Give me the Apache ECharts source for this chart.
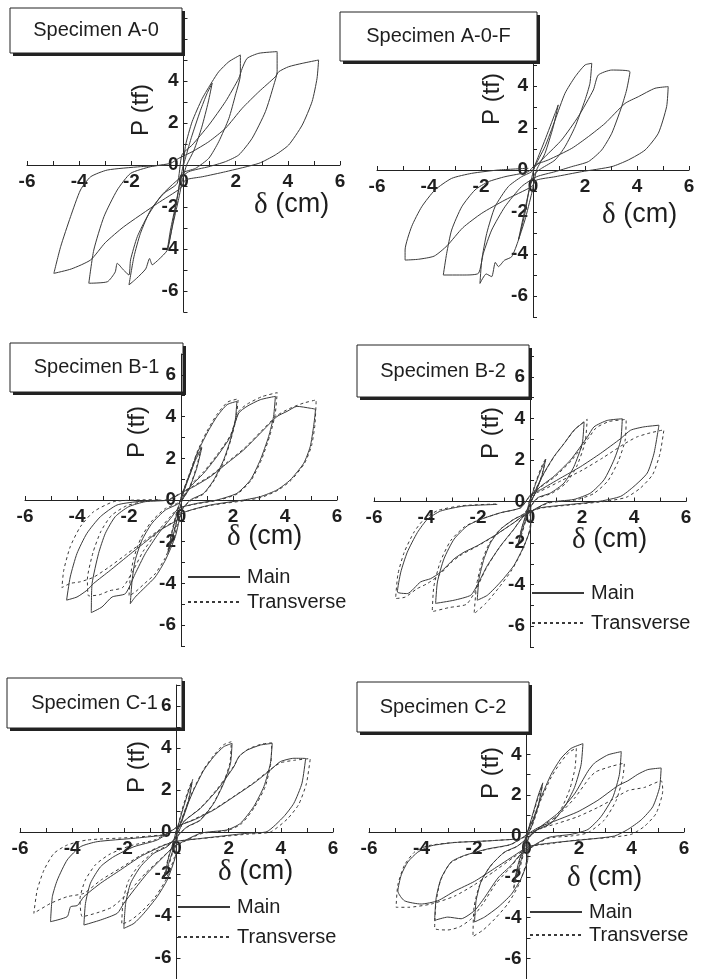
<!DOCTYPE html>
<html>
<head>
<meta charset="utf-8">
<script src="https://cdn.jsdelivr.net/npm/echarts@6/dist/echarts.min.js"></script>
<style>
  html, body { margin: 0; padding: 0; background: #fff; }
  #chart { width: 707px; height: 979px; }
</style>
</head>
<body>
<div id="chart"></div>
<script>
// Load–displacement hysteresis records, δ (cm) vs P (tf), one path per specimen and direction.
const titles = ['Specimen A-0', 'Specimen A-0-F', 'Specimen B-1', 'Specimen B-2', 'Specimen C-1', 'Specimen C-2'];
const seriesNames = ['Main', 'Transverse'];
const xRange = [-6, 6];
const yRange = [-7, 7];
const labelStep = 2;

const a0Main = [
  [0,0],[0.3,1.3],[0.65,2.6],[0.9,3.4],[1.1,3.9],[0.95,3.0],[0.7,1.8],[0.4,0.7],[0.12,0],[-0.02,-0.6],[-0.2,-1.7],[-0.42,-2.9],[-0.62,-4.05],[-0.5,-3.1],[-0.3,-1.9],[-0.12,-0.7],[0,0.1],
  [0.08,0.95],[0.33,2.06],[0.72,3.17],[1.1,3.97],[1.35,4.44],[1.74,4.92],[2.18,5.24],
  [2.18,4.29],[1.99,3.33],[1.74,2.22],[1.35,1.11],[0.97,0.32],[0.46,-0.16],[-0.06,-0.4],
  [-0.2,-1.3],[-0.4,-2.7],[-0.62,-4.05],[-0.95,-4.5],[-1.2,-4.75],[-1.3,-4.45],[-1.45,-4.95],[-1.8,-5.4],[-2.09,-5.71],
  [-1.9,-4.37],[-1.65,-3.25],[-1.26,-2.14],[-0.75,-1.35],[-0.24,-0.87],
  [-0.06,0.48],[0.33,0.95],[0.97,1.9],[1.61,3.02],[2.12,4.13],[2.25,4.6],[2.44,5.08],[2.89,5.32],[3.59,5.4],
  [3.59,4.44],[3.46,3.8],[3.14,2.54],[2.63,1.27],[2.12,0.48],[1.61,0.16],[0.97,-0.08],[0.2,-0.32],
  [-0.37,-0.87],[-0.88,-1.5],[-1.39,-2.46],[-1.77,-3.41],[-2.03,-4.52],[-2.09,-5.24],[-2.3,-5.0],[-2.54,-4.68],[-2.62,-5.1],[-2.92,-5.56],[-3.63,-5.63],
  [-3.44,-4.05],[-3.05,-2.46],[-2.54,-1.19],[-2.03,-0.4],[-1.26,-0.08],[-0.5,0.08],[-0.18,0.32],
  [0.33,0.63],[0.97,1.11],[1.61,1.75],[2.25,2.7],[2.89,3.49],[3.52,4.2],[3.65,4.44],[4.03,4.68],[4.55,4.84],[5.18,5.0],
  [5.12,4.13],[4.93,3.02],[4.55,1.9],[4.03,0.95],[3.52,0.48],[2.89,0.08],[1.61,-0.32],[0.72,-0.56],[0.08,-0.71],
  [-0.11,-1.1],[-1.0,-1.83],[-2.29,-2.94],[-3.0,-3.7],[-3.56,-4.52],[-4.3,-4.95],[-4.97,-5.16],
  [-4.71,-3.89],[-4.33,-2.46],[-3.95,-1.19],[-3.56,-0.56],[-2.92,-0.24],[-1.65,-0.08],[-0.62,0]
];

const a0fMain = [
  [0,0],[0.46,1.43],[0.85,2.7],[0.97,3.1],[0.78,2.06],[0.46,0.79],[0.14,0],[-0.05,-1.11],[-0.31,-2.38],[-0.56,-3.33],[-0.37,-2.22],[-0.12,-0.79],[0.05,0.1],
  [0.46,1.11],[0.85,2.38],[1.23,3.65],[1.62,4.44],[2.0,5.0],[2.26,5.08],
  [2.19,4.13],[2.0,3.33],[1.62,2.06],[1.23,1.11],[0.85,0.48],[0.33,0.08],[0.08,-0.16],
  [-0.12,-0.79],[-0.31,-2.06],[-0.56,-3.33],[-0.82,-4.13],[-1.1,-4.3],[-1.33,-4.6],[-1.45,-4.4],[-1.59,-5.08],[-1.8,-4.95],[-2.04,-5.4],
  [-1.97,-4.29],[-1.78,-3.02],[-1.46,-1.75],[-0.95,-0.79],[-0.44,-0.32],[-0.05,-0.08],
  [0.08,0.16],[0.46,0.63],[1.1,1.43],[1.74,2.54],[2.32,3.81],[2.51,4.52],[3.03,4.76],[3.73,4.68],
  [3.6,3.81],[3.41,3.02],[3.03,1.75],[2.64,0.95],[2.13,0.4],[1.49,0.16],[0.85,-0.08],[0.14,-0.32],
  [-0.44,-0.79],[-1.08,-1.75],[-1.59,-2.86],[-1.91,-3.97],[-2.1,-4.92],[-2.62,-5.0],[-3.45,-5.0],
  [-3.32,-3.97],[-3.13,-2.86],[-2.74,-1.75],[-2.23,-0.95],[-1.72,-0.56],[-1.08,-0.32],[-0.18,-0.08],
  [0.08,0.24],[0.59,0.48],[1.49,1.03],[2.13,1.59],[2.77,2.22],[3.54,3.17],[4.05,3.49],[4.69,3.89],[5.2,3.97],
  [5.14,3.02],[4.82,1.75],[4.31,0.95],[3.67,0.48],[3.03,0.16],[1.87,-0.08],[0.85,-0.32],[0.14,-0.48],
  [-0.05,-0.79],[-1.08,-1.43],[-1.97,-2.06],[-2.7,-2.75],[-3.3,-3.6],[-3.8,-4.1],[-4.4,-4.25],[-4.92,-4.29],
  [-4.92,-3.81],[-4.67,-2.7],[-4.28,-1.75],[-3.77,-0.95],[-3.13,-0.4],[-2.36,-0.16],[-1.33,0],[-0.18,0.08]
];

const b1Main = [
  [0,0],[0.25,0.9],[0.55,1.9],[0.8,2.5],[0.6,1.5],[0.3,0.5],[0.05,0],[-0.1,-0.7],[-0.3,-1.7],[-0.5,-2.5],[-0.35,-1.6],[-0.15,-0.6],[0,0.1],
  [0.1,0.48],[0.36,1.28],[0.62,2.24],[1.0,3.2],[1.38,4.0],[1.77,4.57],[2.15,4.73],
  [2.09,3.85],[1.9,2.88],[1.64,1.92],[1.26,0.96],[0.87,0.32],[0.36,0],[0.04,-0.48],
  [-0.22,-1.76],[-0.6,-2.88],[-0.99,-3.69],[-1.37,-4.17],[-1.76,-4.65],[-1.95,-4.97],
  [-1.88,-3.85],[-1.76,-2.88],[-1.5,-1.92],[-1.12,-1.12],[-0.6,-0.48],[-0.09,-0.16],
  [0.36,0.64],[0.87,1.28],[1.38,2.08],[1.9,3.04],[2.22,4.17],[2.54,4.49],[3.05,4.81],[3.63,4.97],
  [3.56,4.0],[3.37,3.04],[3.05,1.92],[2.67,0.96],[2.15,0.32],[1.38,0],[0.62,-0.16],
  [-0.09,-0.4],[-0.35,-0.8],[-0.86,-1.6],[-1.37,-2.56],[-1.76,-3.53],[-2.14,-4.49],[-2.65,-4.65],[-3.04,-5.13],[-3.45,-5.4],
  [-3.42,-4.01],[-3.17,-2.56],[-2.91,-1.6],[-2.53,-0.8],[-2.01,-0.32],[-1.37,-0.08],[-0.47,0],
  [0.1,0.4],[0.49,0.64],[1.13,1.12],[1.77,1.76],[2.41,2.4],[3.05,3.2],[3.69,4.0],[4.08,4.25],[4.46,4.49],[4.97,4.4],[5.17,4.33],
  [5.1,3.53],[4.97,2.56],[4.72,1.76],[4.2,0.96],[3.69,0.48],[3.05,0.16],[2.41,0],[1.13,-0.24],[0.1,-0.6],
  [-0.15,-0.96],[-0.79,-1.44],[-1.44,-2.08],[-2.08,-2.72],[-2.72,-3.37],[-3.36,-4.0],[-3.62,-4.33],[-4.0,-4.65],[-4.4,-4.8],
  [-4.26,-3.69],[-4.0,-2.56],[-3.62,-1.6],[-3.1,-0.8],[-2.46,-0.24],[-1.69,-0.08],[-0.79,0]
];

const b1Trans = [
  [0,0],[0.25,1.0],[0.55,2.0],[0.8,2.6],[0.6,1.6],[0.3,0.5],[0.05,0],[-0.1,-0.7],[-0.3,-1.6],[-0.5,-2.4],[-0.35,-1.5],[-0.15,-0.5],[0,0.1],
  [0.1,0.5],[0.36,1.35],[0.62,2.3],[1.0,3.3],[1.38,4.1],[1.8,4.7],[2.2,4.85],
  [2.12,3.9],[1.92,2.9],[1.66,1.9],[1.28,0.95],[0.88,0.3],[0.36,-0.05],[0.0,-0.5],
  [-0.25,-1.7],[-0.62,-2.8],[-1.0,-3.55],[-1.4,-4.0],[-1.75,-4.4],[-2.0,-4.6],
  [-1.95,-3.7],[-1.82,-2.8],[-1.55,-1.85],[-1.15,-1.05],[-0.62,-0.42],[-0.1,-0.12],
  [0.36,0.7],[0.87,1.35],[1.38,2.15],[1.9,3.1],[2.22,4.25],[2.55,4.6],[3.1,4.95],[3.7,5.15],
  [3.62,4.1],[3.42,3.1],[3.1,1.95],[2.7,0.95],[2.18,0.3],[1.4,-0.02],[0.62,-0.18],
  [-0.1,-0.4],[-0.4,-0.78],[-0.92,-1.55],[-1.45,-2.45],[-1.85,-3.4],[-2.25,-4.2],[-2.75,-4.35],[-3.15,-4.55],[-3.55,-4.6],
  [-3.6,-3.8],[-3.38,-2.5],[-3.08,-1.5],[-2.68,-0.75],[-2.1,-0.28],[-1.4,-0.06],[-0.5,0.02],
  [0.1,0.42],[0.49,0.68],[1.13,1.16],[1.77,1.8],[2.41,2.45],[3.05,3.25],[3.69,4.05],[4.2,4.4],[4.72,4.65],[5.2,4.8],
  [5.15,3.6],[5.02,2.6],[4.76,1.78],[4.24,0.95],[3.72,0.46],[3.08,0.12],[2.41,-0.04],[1.13,-0.26],[0.1,-0.6],
  [-0.15,-0.95],[-0.8,-1.4],[-1.45,-2.0],[-2.1,-2.6],[-2.75,-3.2],[-3.36,-3.7],[-3.87,-3.92],[-4.26,-4.0],[-4.58,-4.2],
  [-4.51,-3.37],[-4.26,-2.24],[-3.87,-1.28],[-3.36,-0.56],[-2.59,-0.08],[-1.69,0],[-0.79,0.02]
];

const b2Main = [
  [0,0],[0.2,0.8],[0.45,1.6],[0.6,2.0],[0.45,1.2],[0.2,0.4],[0.03,0],[-0.1,-0.6],[-0.3,-1.4],[-0.45,-2.0],[-0.3,-1.2],[-0.1,-0.4],[0,0.1],
  [0.22,0.57],[0.54,1.37],[0.92,2.16],[1.31,2.79],[1.69,3.43],[2.08,3.83],
  [2.01,2.79],[1.69,1.68],[1.31,0.89],[0.79,0.41],[0.28,0.17],[0.03,-0.3],
  [0.03,-1.17],[-0.23,-2.13],[-0.62,-3.08],[-1.13,-3.87],[-1.64,-4.51],[-2.03,-4.75],
  [-1.96,-3.71],[-1.77,-2.76],[-1.51,-1.97],[-1.13,-1.33],[-0.62,-0.86],[-0.17,-0.54],
  [0.28,0.57],[0.92,1.21],[1.56,2.0],[2.21,3.11],[2.46,3.59],[2.97,3.9],[3.55,3.98],
  [3.49,2.95],[3.23,2.0],[2.85,1.05],[2.33,0.41],[1.69,0.1],[0.67,-0.06],
  [-0.23,-0.7],[-0.62,-1.33],[-1.13,-2.13],[-1.64,-3.08],[-2.03,-4.03],[-2.28,-4.51],[-2.92,-4.75],[-3.63,-4.9],
  [-3.56,-3.87],[-3.31,-2.76],[-2.92,-1.81],[-2.41,-1.17],[-1.9,-0.86],[-1.13,-0.54],[-0.36,-0.3],
  [0.03,0.33],[0.41,0.57],[1.18,1.13],[1.95,1.68],[2.72,2.32],[3.49,3.03],[3.87,3.43],[4.38,3.59],[4.96,3.67],
  [4.77,2.32],[4.51,1.37],[4.0,0.73],[3.49,0.25],[2.72,0.02],[1.56,-0.14],[0.41,-0.3],
  [-0.1,-0.54],[-0.62,-1.02],[-1.38,-1.65],[-2.03,-2.13],[-2.54,-2.44],[-2.92,-2.76],[-3.44,-3.4],[-3.82,-3.71],[-4.21,-3.87],[-4.72,-4.43],[-5.1,-4.35],
  [-4.97,-3.4],[-4.72,-2.44],[-4.33,-1.49],[-3.95,-0.86],[-3.44,-0.46],[-2.54,-0.22],[-1.26,-0.14]
];

const b2Trans = [
  [0,0],[0.2,0.85],[0.45,1.7],[0.62,2.1],[0.45,1.25],[0.2,0.4],[0.03,0],[-0.1,-0.65],[-0.3,-1.5],[-0.48,-2.2],[-0.32,-1.3],[-0.1,-0.45],[0,0.1],
  [0.22,0.6],[0.56,1.4],[0.95,2.2],[1.35,2.85],[1.75,3.5],[2.2,3.95],
  [2.12,2.85],[1.8,1.7],[1.4,0.9],[0.85,0.4],[0.3,0.15],[0.0,-0.35],
  [0.0,-1.25],[-0.28,-2.3],[-0.7,-3.3],[-1.2,-4.15],[-1.7,-4.9],[-2.15,-5.4],
  [-2.05,-4.0],[-1.85,-2.9],[-1.58,-2.05],[-1.18,-1.38],[-0.66,-0.88],[-0.2,-0.55],
  [0.28,0.55],[0.92,1.15],[1.58,1.95],[2.25,3.05],[2.55,3.55],[3.05,3.85],[3.7,3.95],
  [3.66,2.95],[3.4,1.95],[3.0,1.0],[2.45,0.38],[1.78,0.08],[0.7,-0.08],
  [-0.25,-0.72],[-0.66,-1.4],[-1.2,-2.25],[-1.72,-3.3],[-2.12,-4.35],[-2.45,-4.95],[-3.1,-5.1],[-3.76,-5.3],
  [-3.7,-4.1],[-3.45,-2.9],[-3.05,-1.88],[-2.5,-1.2],[-1.95,-0.88],[-1.15,-0.55],[-0.36,-0.3],
  [0.03,0.3],[0.41,0.5],[1.2,1.0],[2.0,1.5],[2.8,2.1],[3.6,2.75],[4.1,3.1],[4.62,3.3],[5.15,3.45],
  [5.0,2.3],[4.72,1.3],[4.25,0.65],[3.7,0.2],[2.85,0.0],[1.6,-0.16],[0.41,-0.32],
  [-0.1,-0.55],[-0.66,-1.05],[-1.42,-1.7],[-2.1,-2.2],[-2.62,-2.55],[-3.0,-2.9],[-3.5,-3.55],[-3.95,-3.95],[-4.35,-4.2],[-4.8,-4.6],[-5.17,-4.67],
  [-5.08,-3.5],[-4.84,-2.45],[-4.45,-1.45],[-4.05,-0.82],[-3.52,-0.42],[-2.6,-0.2],[-1.3,-0.12]
];

const c1Main = [
  [0,0],[0.2,0.9],[0.45,1.9],[0.6,2.4],[0.45,1.4],[0.2,0.5],[0.02,0],[-0.1,-0.7],[-0.3,-1.5],[-0.45,-2.1],[-0.3,-1.2],[-0.1,-0.4],[0,0.1],
  [0.15,0.41],[0.34,1.05],[0.66,2.0],[1.05,2.95],[1.43,3.59],[1.81,4.06],[2.13,4.22],
  [2.07,3.27],[1.81,2.32],[1.43,1.37],[0.92,0.57],[0.41,0.25],[0.05,-0.2],
  [-0.04,-1.17],[-0.36,-2.29],[-0.74,-3.08],[-1.25,-3.87],[-1.63,-4.35],[-2.02,-4.59],
  [-1.95,-3.4],[-1.76,-2.44],[-1.38,-1.65],[-0.87,-1.02],[-0.36,-0.7],[-0.05,-0.3],
  [0.28,0.49],[0.92,1.13],[1.56,2.0],[2.2,3.11],[2.39,3.59],[2.71,3.9],[3.22,4.14],[3.67,4.22],
  [3.6,3.27],[3.35,2.16],[2.96,1.21],[2.45,0.41],[1.94,0.1],[0.92,-0.06],
  [-0.1,-0.7],[-0.49,-1.17],[-1.12,-1.97],[-1.63,-2.76],[-2.02,-3.4],[-2.27,-3.87],[-2.91,-4.19],[-3.55,-4.43],
  [-3.49,-3.4],[-3.3,-2.44],[-2.91,-1.65],[-2.4,-1.17],[-1.63,-0.7],[-0.74,-0.38],
  [0.15,0.33],[0.66,0.57],[1.43,1.05],[2.2,1.68],[2.96,2.32],[3.6,2.95],[3.98,3.35],[4.5,3.51],[4.95,3.5],
  [4.81,2.32],[4.5,1.37],[4.11,0.73],[3.47,0.02],[2.71,-0.06],[1.56,-0.22],[0.41,-0.38],
  [-0.1,-0.46],[-0.61,-0.7],[-1.38,-1.17],[-2.15,-1.81],[-2.91,-2.44],[-3.55,-3.08],[-3.8,-3.5],[-4.06,-3.56],[-4.19,-4.03],[-4.83,-4.27],
  [-4.76,-3.08],[-4.57,-2.29],[-4.19,-1.33],[-3.68,-0.7],[-3.04,-0.46],[-1.63,-0.3],[-0.36,-0.14]
];

const c1Trans = [
  [0,0],[0.2,1.0],[0.45,2.0],[0.62,2.5],[0.45,1.5],[0.2,0.5],[0.02,0],[-0.1,-0.75],[-0.3,-1.6],[-0.5,-2.2],[-0.32,-1.25],[-0.1,-0.4],[0,0.1],
  [0.15,0.45],[0.34,1.1],[0.66,2.05],[1.05,3.0],[1.43,3.65],[1.8,4.15],[2.1,4.3],
  [2.05,3.3],[1.8,2.35],[1.42,1.38],[0.9,0.56],[0.4,0.22],[0.03,-0.22],
  [-0.08,-1.2],[-0.42,-2.3],[-0.82,-3.1],[-1.35,-3.8],[-1.75,-4.2],[-2.1,-4.4],
  [-2.05,-3.3],[-1.85,-2.35],[-1.45,-1.6],[-0.92,-1.0],[-0.4,-0.68],[-0.05,-0.3],
  [0.28,0.5],[0.92,1.15],[1.56,2.05],[2.2,3.15],[2.42,3.62],[2.75,3.95],[3.25,4.18],[3.65,4.25],
  [3.62,3.3],[3.4,2.15],[3.0,1.2],[2.5,0.4],[1.98,0.08],[0.95,-0.08],
  [-0.1,-0.72],[-0.52,-1.18],[-1.18,-1.95],[-1.72,-2.7],[-2.15,-3.25],[-2.5,-3.6],[-3.05,-3.85],[-3.61,-4.03],
  [-3.7,-3.2],[-3.5,-2.3],[-3.1,-1.55],[-2.55,-1.05],[-1.75,-0.65],[-0.8,-0.36],
  [0.15,0.33],[0.66,0.6],[1.43,1.08],[2.2,1.7],[2.96,2.35],[3.6,2.98],[4.0,3.3],[4.55,3.42],[5.13,3.5],
  [4.98,2.3],[4.68,1.3],[4.25,0.62],[3.6,0.0],[2.75,-0.1],[1.56,-0.24],[0.41,-0.38],
  [-0.1,-0.46],[-0.61,-0.68],[-1.38,-1.12],[-2.15,-1.72],[-2.91,-2.3],[-3.55,-2.92],[-4.19,-3.08],[-4.83,-3.4],[-5.47,-3.87],
  [-5.34,-2.76],[-5.08,-1.81],[-4.7,-1.02],[-4.19,-0.62],[-3.42,-0.38],[-1.7,-0.26],[-0.36,-0.12]
];

const c2Main = [
  [0,0],[0.2,0.9],[0.45,2.0],[0.62,2.6],[0.45,1.5],[0.2,0.5],[0.02,0],[-0.1,-0.7],[-0.3,-1.6],[-0.48,-2.3],[-0.3,-1.3],[-0.1,-0.45],[0,0.1],
  [0.24,0.79],[0.56,1.9],[0.94,3.02],[1.32,3.81],[1.7,4.29],[2.15,4.52],
  [2.08,3.49],[1.83,2.38],[1.45,1.43],[0.94,0.63],[0.3,0.24],[0.05,-0.2],
  [0.05,-1.11],[-0.2,-2.06],[-0.58,-2.86],[-1.09,-3.49],[-1.6,-3.97],[-1.98,-4.21],
  [-1.92,-3.17],[-1.73,-2.22],[-1.35,-1.43],[-0.84,-0.79],[-0.33,-0.48],
  [0.56,0.48],[1.19,1.11],[1.83,2.06],[2.34,3.17],[2.59,3.57],[3.1,3.97],[3.61,4.13],
  [3.54,3.02],[3.29,1.9],[2.84,0.95],[2.34,0.32],[1.7,0.08],[0.81,-0.08],
  [-0.2,-0.87],[-0.58,-1.43],[-1.09,-2.06],[-1.6,-3.02],[-1.98,-3.65],[-2.49,-4.05],[-3.0,-3.97],[-3.5,-4.13],
  [-3.44,-3.02],[-3.25,-2.06],[-2.87,-1.27],[-2.36,-0.95],[-1.47,-0.63],[-0.58,-0.4],
  [0.43,0.4],[1.19,0.79],[1.96,1.19],[2.72,1.75],[3.48,2.46],[3.86,2.7],[4.24,3.02],[4.62,3.25],[5.13,3.33],
  [5.07,2.38],[4.81,1.43],[4.37,0.79],[3.86,0.32],[3.35,0],[2.34,-0.16],[1.07,-0.32],[0.18,-0.48],
  [-0.08,-0.63],[-0.46,-0.95],[-1.22,-1.59],[-1.98,-2.22],[-2.74,-2.7],[-3.38,-3.17],[-4.01,-3.33],[-4.65,-3.17],[-4.9,-2.7],
  [-4.77,-1.9],[-4.52,-1.27],[-4.14,-0.79],[-3.63,-0.48],[-2.74,-0.32],[-1.47,-0.24],[-0.46,-0.16]
];

const c2Trans = [
  [0,0],[0.2,0.85],[0.45,1.9],[0.6,2.45],[0.45,1.4],[0.2,0.45],[0.02,0],[-0.1,-0.8],[-0.3,-1.8],[-0.5,-2.6],[-0.32,-1.5],[-0.1,-0.5],[0,0.1],
  [0.24,0.75],[0.56,1.8],[0.95,2.9],[1.3,3.6],[1.62,4.1],[1.9,4.3],
  [1.85,3.33],[1.65,2.3],[1.35,1.4],[0.9,0.6],[0.3,0.2],[0.03,-0.25],
  [0.0,-1.25],[-0.28,-2.35],[-0.7,-3.3],[-1.2,-4.05],[-1.65,-4.6],[-2.04,-4.92],
  [-2.0,-3.5],[-1.8,-2.45],[-1.42,-1.55],[-0.9,-0.85],[-0.35,-0.5],
  [0.56,0.45],[1.19,1.0],[1.83,1.85],[2.4,2.85],[2.65,3.15],[3.23,3.41],[3.73,3.57],
  [3.67,2.86],[3.42,1.75],[2.97,0.79],[2.34,0.16],[1.7,0.0],[0.81,-0.12],
  [-0.2,-0.9],[-0.62,-1.55],[-1.15,-2.3],[-1.68,-3.35],[-2.1,-4.05],[-2.55,-4.45],[-3.0,-4.6],[-3.5,-4.52],
  [-3.45,-3.3],[-3.28,-2.2],[-2.92,-1.35],[-2.4,-0.98],[-1.5,-0.65],[-0.6,-0.42],
  [0.43,0.32],[1.19,0.62],[1.96,0.95],[2.72,1.4],[3.23,1.75],[3.86,2.22],[4.5,2.38],[5.13,2.7],
  [5.19,2.22],[4.94,1.11],[4.5,0.48],[3.99,0.08],[3.1,-0.08],[1.9,-0.2],[1.0,-0.36],[0.18,-0.5],
  [-0.08,-0.68],[-0.5,-1.05],[-1.25,-1.75],[-2.0,-2.4],[-2.75,-2.95],[-3.63,-3.33],[-4.52,-3.49],[-4.97,-3.49],
  [-4.9,-2.38],[-4.65,-1.43],[-4.27,-0.79],[-3.76,-0.48],[-2.8,-0.32],[-1.5,-0.24],[-0.46,-0.16]
];

const mainPaths = [a0Main, a0fMain, b1Main, b2Main, c1Main, c2Main];
const transPaths = [null, null, b1Trans, b2Trans, c1Trans, c2Trans];

// Page layout of the six panels (pixels).
const layout = [
  { grid: [27, 18, 313, 294],  box: [10, 8, 172, 45],    boxOnTop: true,  xName: [254, 205], yName: [141, 110], legend: null },
  { grid: [377, 23, 312, 294], box: [340, 12, 197, 49],  boxOnTop: true,  xName: [602, 215], yName: [492, 99],  legend: null },
  { grid: [25, 354, 312, 292], box: [10, 343, 173, 49],  boxOnTop: false, xName: [227, 537], yName: [137, 432], legend: [187, 567, 5] },
  { grid: [374, 356, 312, 291], box: [357, 345, 172, 52], boxOnTop: false, xName: [572, 540], yName: [491, 433], legend: [531, 583, 10] },
  { grid: [20, 685, 313, 294], box: [7, 678, 175, 50],   boxOnTop: false, xName: [218, 872], yName: [137, 767], legend: [177, 897, 10] },
  { grid: [369, 693, 315, 294], box: [357, 682, 172, 50], boxOnTop: true,  xName: [567, 878], yName: [491, 773], legend: [529, 902, 3] }
];

const FONT = "'Liberation Sans', Arial, Helvetica, sans-serif";
const SERIF = "'Liberation Serif', 'DejaVu Serif', serif";
const INK = '#1e1e1e';
const LINE = '#3a3a3a';

const evenOnly = v => (Math.round(v) % labelStep === 0 ? String(Math.round(v)) : '');

const grid = layout.map(l => ({ left: l.grid[0], top: l.grid[1], width: l.grid[2], height: l.grid[3], containLabel: false }));

// Both axes cross at the origin: shift each axis from the grid edge to the zero line.
const xAxis = layout.map((l, i) => ({
  gridIndex: i, type: 'value', min: xRange[0], max: xRange[1], interval: 1,
  position: 'bottom',
  offset: -l.grid[3] * (0 - yRange[0]) / (yRange[1] - yRange[0]),
  axisLine: { onZero: false, lineStyle: { color: '#222', width: 1 } },
  axisTick: { inside: true, length: 4, lineStyle: { color: '#222', width: 1 } },
  axisLabel: { formatter: evenOnly, fontFamily: FONT, fontWeight: 'bold', fontSize: 19, color: INK, margin: 7 },
  splitLine: { show: false }
}));

const yAxis = layout.map((l, i) => ({
  gridIndex: i, type: 'value', min: yRange[0], max: yRange[1], interval: 1,
  position: 'left',
  offset: -l.grid[2] * (0 - xRange[0]) / (xRange[1] - xRange[0]),
  axisLine: { onZero: false, lineStyle: { color: '#222', width: 1 } },
  axisTick: { inside: true, length: 4, lineStyle: { color: '#222', width: 1 } },
  axisLabel: { formatter: evenOnly, fontFamily: FONT, fontWeight: 'bold', fontSize: 19, color: INK, margin: 5 },
  splitLine: { show: false }
}));

const series = [];
mainPaths.forEach((path, i) => {
  series.push({
    name: seriesNames[0], type: 'line', xAxisIndex: i, yAxisIndex: i, data: path,
    symbol: 'none', smooth: 0.2, z: 3,
    lineStyle: { color: LINE, width: 1, type: 'solid' }, itemStyle: { color: LINE }
  });
  if (transPaths[i]) {
    series.push({
      name: seriesNames[1], type: 'line', xAxisIndex: i, yAxisIndex: i, data: transPaths[i],
      symbol: 'none', smooth: 0.2, z: 3,
      lineStyle: { color: LINE, width: 1, type: [3, 3] }, itemStyle: { color: LINE }
    });
  }
});

const legend = layout.filter(l => l.legend).map(l => ({
  orient: 'vertical', left: l.legend[0], top: l.legend[1], padding: 0,
  itemWidth: 52, itemHeight: 14, itemGap: l.legend[2], selectedMode: false,
  data: seriesNames,
  itemStyle: { color: 'transparent', borderColor: 'transparent', borderWidth: 0, opacity: 0 },
  textStyle: { fontFamily: FONT, fontSize: 20, color: INK, padding: [0, 0, 0, 2] }
}));

const graphic = [];
layout.forEach((l, i) => {
  const [bx, by, bw, bh] = l.box;
  const z = l.boxOnTop ? 50 : -5;
  graphic.push({ type: 'rect', z: z, shape: { x: bx + 3, y: by + 3, width: bw, height: bh }, style: { fill: '#222' } });
  graphic.push({ type: 'rect', z: z + 1, shape: { x: bx, y: by, width: bw, height: bh }, style: { fill: '#fff', stroke: '#222', lineWidth: 1 } });
  graphic.push({ type: 'text', z: z + 2, x: bx + bw / 2, y: by + bh / 2,
    style: { text: titles[i], fill: INK, font: '20px ' + FONT, textAlign: 'center', textVerticalAlign: 'middle' } });
  graphic.push({ type: 'text', z: 20, x: l.xName[0], y: l.xName[1],
    style: {
      text: '{d|δ} (cm)', fill: INK, font: '27px ' + FONT, textAlign: 'left', textVerticalAlign: 'middle',
      rich: { d: { fontFamily: SERIF, fontSize: 29, fill: INK } }
    } });
  graphic.push({ type: 'text', z: 20, x: l.yName[0], y: l.yName[1], rotation: Math.PI / 2,
    style: { text: 'P (tf)', fill: INK, font: '24px ' + FONT, textAlign: 'center', textVerticalAlign: 'middle' } });
});

const chart = echarts.init(document.getElementById('chart'), null, { renderer: 'canvas' });
chart.setOption({
  animation: false,
  backgroundColor: '#fff',
  grid, xAxis, yAxis, series, legend, graphic
});
</script>
</body>
</html>
